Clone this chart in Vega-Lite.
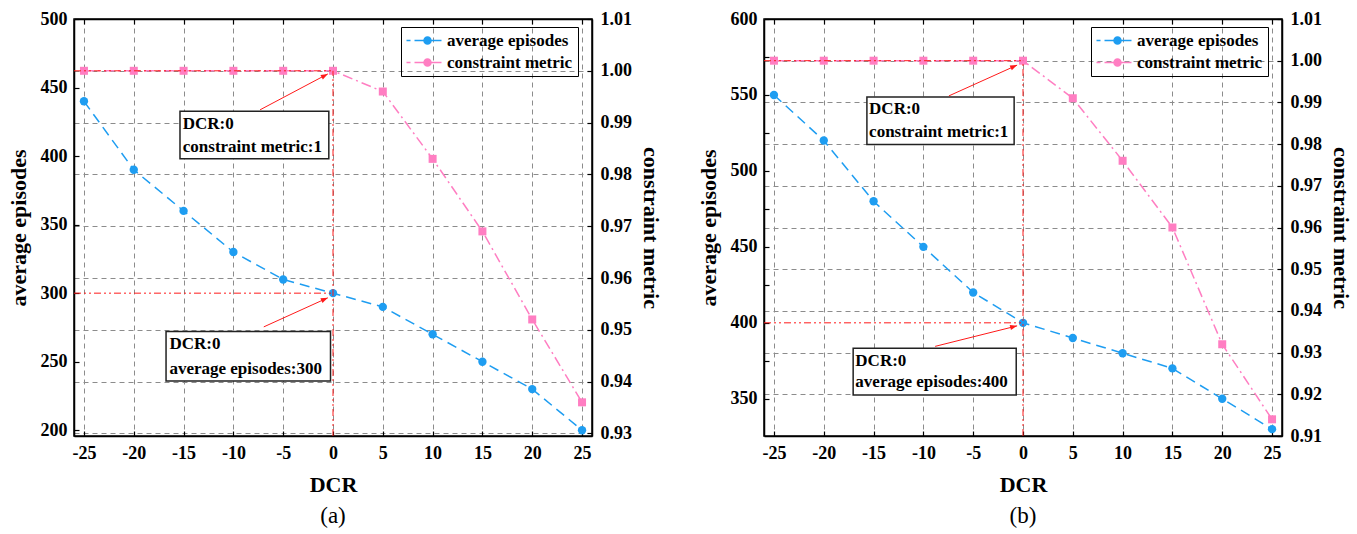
{
  "$schema": "https://vega.github.io/schema/vega-lite/v6.json",
  "background": "white",
  "padding": {"left": 6, "top": 9, "right": 0, "bottom": 0},
  "spacing": 33,
  "datasets": {
    "a": [
      {"DCR": -25, "series": "average episodes", "value": 440},
      {"DCR": -20, "series": "average episodes", "value": 390},
      {"DCR": -15, "series": "average episodes", "value": 360},
      {"DCR": -10, "series": "average episodes", "value": 330},
      {"DCR": -5, "series": "average episodes", "value": 310},
      {"DCR": 0, "series": "average episodes", "value": 300},
      {"DCR": 5, "series": "average episodes", "value": 290},
      {"DCR": 10, "series": "average episodes", "value": 270},
      {"DCR": 15, "series": "average episodes", "value": 250},
      {"DCR": 20, "series": "average episodes", "value": 230},
      {"DCR": 25, "series": "average episodes", "value": 200},
      {"DCR": -25, "series": "constraint metric", "value": 1.0},
      {"DCR": -20, "series": "constraint metric", "value": 1.0},
      {"DCR": -15, "series": "constraint metric", "value": 1.0},
      {"DCR": -10, "series": "constraint metric", "value": 1.0},
      {"DCR": -5, "series": "constraint metric", "value": 1.0},
      {"DCR": 0, "series": "constraint metric", "value": 1.0},
      {"DCR": 5, "series": "constraint metric", "value": 0.996},
      {"DCR": 10, "series": "constraint metric", "value": 0.983},
      {"DCR": 15, "series": "constraint metric", "value": 0.969},
      {"DCR": 20, "series": "constraint metric", "value": 0.952},
      {"DCR": 25, "series": "constraint metric", "value": 0.936}
    ],
    "b": [
      {"DCR": -25, "series": "average episodes", "value": 550},
      {"DCR": -20, "series": "average episodes", "value": 520},
      {"DCR": -15, "series": "average episodes", "value": 480},
      {"DCR": -10, "series": "average episodes", "value": 450},
      {"DCR": -5, "series": "average episodes", "value": 420},
      {"DCR": 0, "series": "average episodes", "value": 400},
      {"DCR": 5, "series": "average episodes", "value": 390},
      {"DCR": 10, "series": "average episodes", "value": 380},
      {"DCR": 15, "series": "average episodes", "value": 370},
      {"DCR": 20, "series": "average episodes", "value": 350},
      {"DCR": 25, "series": "average episodes", "value": 330},
      {"DCR": -25, "series": "constraint metric", "value": 1.0},
      {"DCR": -20, "series": "constraint metric", "value": 1.0},
      {"DCR": -15, "series": "constraint metric", "value": 1.0},
      {"DCR": -10, "series": "constraint metric", "value": 1.0},
      {"DCR": -5, "series": "constraint metric", "value": 1.0},
      {"DCR": 0, "series": "constraint metric", "value": 1.0},
      {"DCR": 5, "series": "constraint metric", "value": 0.991},
      {"DCR": 10, "series": "constraint metric", "value": 0.976},
      {"DCR": 15, "series": "constraint metric", "value": 0.96},
      {"DCR": 20, "series": "constraint metric", "value": 0.932},
      {"DCR": 25, "series": "constraint metric", "value": 0.914}
    ]
  },
  "hconcat": [
    {
      "width": 518,
      "height": 417,
      "title": {"text": "(a)", "orient": "bottom", "offset": 10},
      "resolve": {"scale": {"y": "independent"}},
      "layer": [
        {
          "layer": [
            {
              "data": {"name": "a"},
              "transform": [{"filter": "datum.series === 'average episodes'"}],
              "mark": {"type": "line", "strokeWidth": 1.5, "strokeDash": [10, 6], "point": {"filled": true, "size": 70, "shape": "circle", "opacity": 1}},
              "encoding": {
                "x": {"field": "DCR", "type": "quantitative", "scale": {"domain": [-26, 26], "nice": false, "zero": false},
                  "axis": {"orient": "bottom", "title": "DCR", "values": [-25, -22.5, -20, -17.5, -15, -12.5, -10, -7.5, -5, -2.5, 0, 2.5, 5, 7.5, 10, 12.5, 15, 17.5, 20, 22.5, 25],
                    "labelExpr": "datum.value % 5 === 0 ? '' + datum.value : ''",
                    "tickSize": -5,
                    "labelPadding": 13, "titlePadding": 12,
                    "grid": true, "gridOpacity": {"condition": {"test": "datum.value % 5 !== 0", "value": 0}, "value": 1}}},
                "y": {"field": "value", "type": "quantitative", "scale": {"domain": [195.8, 500], "nice": false, "zero": false},
                  "axis": {"orient": "left", "title": "average episodes", "values": [200, 225, 250, 275, 300, 325, 350, 375, 400, 425, 450, 475, 500],
                    "labelExpr": "datum.value % 50 === 0 ? '' + datum.value : ''",
                    "tickSize": -5,
                    "labelPadding": 12, "titlePadding": 10, "grid": false}},
                "color": {"field": "series", "type": "nominal",
                  "scale": {"domain": ["average episodes", "constraint metric"], "range": ["#1E9DF1", "#FF7EC2"]},
                  "legend": {"orient": "none", "legendX": 327, "legendY": 8}}
              }
            },
            {
              "data": {"values": [{"x": -26, "x2": 0, "y": 300}]},
              "mark": {"type": "rule", "color": "#FF1A1A", "strokeWidth": 1, "strokeDash": [7, 3, 2, 3, 2, 3]},
              "encoding": {
                "x": {"field": "x", "type": "quantitative", "scale": {"domain": [-26, 26], "nice": false, "zero": false}},
                "x2": {"field": "x2"},
                "y": {"field": "y", "type": "quantitative", "scale": {"domain": [195.8, 500], "nice": false, "zero": false}}
              }
            },
            {
              "data": {"values": [{"x": -16.76, "x2": -0.25, "y": 272.0, "y2": 236.0}]},
              "mark": {"type": "rect", "fill": "white", "stroke": "#222222", "strokeWidth": 1.5},
              "encoding": {
                "x": {"field": "x", "type": "quantitative", "scale": {"domain": [-26, 26], "nice": false, "zero": false}},
                "x2": {"field": "x2"},
                "y": {"field": "y", "type": "quantitative", "scale": {"domain": [195.8, 500], "nice": false, "zero": false}},
                "y2": {"field": "y2"}
              }
            },
            {
              "data": {"values": [{"x": -16.42, "y": 262.8, "t": "DCR:0"}, {"x": -16.42, "y": 245.0, "t": "average episodes:300"}]},
              "mark": {"type": "text", "align": "left", "baseline": "middle", "font": "Liberation Serif", "fontWeight": "bold", "fontSize": 17, "color": "#000000"},
              "encoding": {
                "x": {"field": "x", "type": "quantitative", "scale": {"domain": [-26, 26], "nice": false, "zero": false}},
                "y": {"field": "y", "type": "quantitative", "scale": {"domain": [195.8, 500], "nice": false, "zero": false}},
                "text": {"field": "t"}
              }
            },
            {
              "data": {"values": [{"x": -6.95, "y": 275.4, "x2": -0.52, "y2": 296.6}]},
              "mark": {"type": "rule", "color": "#FF1A1A", "strokeWidth": 1},
              "encoding": {
                "x": {"field": "x", "type": "quantitative", "scale": {"domain": [-26, 26], "nice": false, "zero": false}},
                "x2": {"field": "x2"},
                "y": {"field": "y", "type": "quantitative", "scale": {"domain": [195.8, 500], "nice": false, "zero": false}},
                "y2": {"field": "y2"}
              }
            },
            {
              "data": {"values": [{"x": -0.52, "y": 296.6}]},
              "mark": {"type": "point", "shape": "M0,0L-2,-0.75L-2,0.75Z", "filled": true, "size": 49, "angle": -24, "color": "#FF1A1A", "opacity": 1},
              "encoding": {
                "x": {"field": "x", "type": "quantitative", "scale": {"domain": [-26, 26], "nice": false, "zero": false}},
                "y": {"field": "y", "type": "quantitative", "scale": {"domain": [195.8, 500], "nice": false, "zero": false}}
              }
            }
          ]
        },
        {
          "layer": [
            {
              "data": {"name": "a"},
              "transform": [{"filter": "datum.series === 'constraint metric'"}],
              "mark": {"type": "line", "strokeWidth": 1.5, "strokeDash": [10, 4, 2, 4], "point": {"filled": true, "size": 64, "shape": "square", "opacity": 1}},
              "encoding": {
                "x": {"field": "DCR", "type": "quantitative", "scale": {"domain": [-26, 26], "nice": false, "zero": false},
                  "axis": {"orient": "top", "title": null, "labels": false, "grid": false, "values": [-25, -22.5, -20, -17.5, -15, -12.5, -10, -7.5, -5, -2.5, 0, 2.5, 5, 7.5, 10, 12.5, 15, 17.5, 20, 22.5, 25],
                    "tickSize": -5}},
                "y": {"field": "value", "type": "quantitative", "scale": {"domain": [0.9295, 1.01], "nice": false, "zero": false},
                  "axis": {"orient": "right", "title": "constraint metric", "values": [0.93, 0.935, 0.94, 0.945, 0.95, 0.955, 0.96, 0.965, 0.97, 0.975, 0.98, 0.985, 0.99, 0.995, 1, 1.005, 1.01],
                    "labelExpr": "abs(datum.value * 100 - round(datum.value * 100)) < 0.01 ? format(datum.value, '.2f') : ''",
                    "tickSize": -5,
                    "labelPadding": 13, "titlePadding": 7,
                    "grid": true, "gridOpacity": {"condition": {"test": "abs(datum.value * 100 - round(datum.value * 100)) >= 0.01", "value": 0}, "value": 1}}},
                "color": {"field": "series", "type": "nominal",
                  "scale": {"domain": ["average episodes", "constraint metric"], "range": ["#1E9DF1", "#FF7EC2"]},
                  "legend": {"orient": "none", "legendX": 327, "legendY": 8}}
              }
            },
            {
              "data": {"values": [{"x": -26, "x2": 0, "y": 1, "y2": 1}, {"x": 0, "x2": 0, "y": 0.9295, "y2": 1}]},
              "mark": {"type": "rule", "color": "#FF1A1A", "strokeWidth": 1, "strokeDash": [7, 3, 2, 3, 2, 3]},
              "encoding": {
                "x": {"field": "x", "type": "quantitative", "scale": {"domain": [-26, 26], "nice": false, "zero": false}},
                "x2": {"field": "x2"},
                "y": {"field": "y", "type": "quantitative", "scale": {"domain": [0.9295, 1.01], "nice": false, "zero": false}},
                "y2": {"field": "y2"}
              }
            },
            {
              "data": {"values": [{"x": -15.36, "x2": -0.42, "y": 0.9922, "y2": 0.98303}]},
              "mark": {"type": "rect", "fill": "white", "stroke": "#222222", "strokeWidth": 1.5},
              "encoding": {
                "x": {"field": "x", "type": "quantitative", "scale": {"domain": [-26, 26], "nice": false, "zero": false}},
                "x2": {"field": "x2"},
                "y": {"field": "y", "type": "quantitative", "scale": {"domain": [0.9295, 1.01], "nice": false, "zero": false}},
                "y2": {"field": "y2"}
              }
            },
            {
              "data": {"values": [{"x": -15.08, "y": 0.98977, "t": "DCR:0"}, {"x": -15.08, "y": 0.98526, "t": "constraint metric:1"}]},
              "mark": {"type": "text", "align": "left", "baseline": "middle", "font": "Liberation Serif", "fontWeight": "bold", "fontSize": 17, "color": "#000000"},
              "encoding": {
                "x": {"field": "x", "type": "quantitative", "scale": {"domain": [-26, 26], "nice": false, "zero": false}},
                "y": {"field": "y", "type": "quantitative", "scale": {"domain": [0.9295, 1.01], "nice": false, "zero": false}},
                "text": {"field": "t"}
              }
            },
            {
              "data": {"values": [{"x": -7.32, "y": 0.99247, "x2": -0.52, "y2": 0.9994}]},
              "mark": {"type": "rule", "color": "#FF1A1A", "strokeWidth": 1},
              "encoding": {
                "x": {"field": "x", "type": "quantitative", "scale": {"domain": [-26, 26], "nice": false, "zero": false}},
                "x2": {"field": "x2"},
                "y": {"field": "y", "type": "quantitative", "scale": {"domain": [0.9295, 1.01], "nice": false, "zero": false}},
                "y2": {"field": "y2"}
              }
            },
            {
              "data": {"values": [{"x": -0.52, "y": 0.9994}]},
              "mark": {"type": "point", "shape": "M0,0L-2,-0.75L-2,0.75Z", "filled": true, "size": 49, "angle": -28, "color": "#FF1A1A", "opacity": 1},
              "encoding": {
                "x": {"field": "x", "type": "quantitative", "scale": {"domain": [-26, 26], "nice": false, "zero": false}},
                "y": {"field": "y", "type": "quantitative", "scale": {"domain": [0.9295, 1.01], "nice": false, "zero": false}}
              }
            }
          ]
        }
      ]
    },
    {
      "width": 518,
      "height": 417,
      "title": {"text": "(b)", "orient": "bottom", "offset": 10},
      "resolve": {"scale": {"y": "independent"}},
      "layer": [
        {
          "layer": [
            {
              "data": {"name": "b"},
              "transform": [{"filter": "datum.series === 'average episodes'"}],
              "mark": {"type": "line", "strokeWidth": 1.5, "strokeDash": [10, 6], "point": {"filled": true, "size": 70, "shape": "circle", "opacity": 1}},
              "encoding": {
                "x": {"field": "DCR", "type": "quantitative", "scale": {"domain": [-26, 26], "nice": false, "zero": false},
                  "axis": {"orient": "bottom", "title": "DCR", "values": [-25, -22.5, -20, -17.5, -15, -12.5, -10, -7.5, -5, -2.5, 0, 2.5, 5, 7.5, 10, 12.5, 15, 17.5, 20, 22.5, 25],
                    "labelExpr": "datum.value % 5 === 0 ? '' + datum.value : ''",
                    "tickSize": -5,
                    "labelPadding": 13, "titlePadding": 12,
                    "grid": true, "gridOpacity": {"condition": {"test": "datum.value % 5 !== 0", "value": 0}, "value": 1}}},
                "y": {"field": "value", "type": "quantitative", "scale": {"domain": [325.5, 600], "nice": false, "zero": false},
                  "axis": {"orient": "left", "title": "average episodes", "values": [350, 375, 400, 425, 450, 475, 500, 525, 550, 575, 600],
                    "labelExpr": "datum.value % 50 === 0 ? '' + datum.value : ''",
                    "tickSize": -5,
                    "labelPadding": 12, "titlePadding": 10, "grid": false}},
                "color": {"field": "series", "type": "nominal",
                  "scale": {"domain": ["average episodes", "constraint metric"], "range": ["#1E9DF1", "#FF7EC2"]},
                  "legend": {"orient": "none", "legendX": 327, "legendY": 8}}
              }
            },
            {
              "data": {"values": [{"x": -26, "x2": 0, "y": 400}]},
              "mark": {"type": "rule", "color": "#FF1A1A", "strokeWidth": 1, "strokeDash": [7, 3, 2, 3, 2, 3]},
              "encoding": {
                "x": {"field": "x", "type": "quantitative", "scale": {"domain": [-26, 26], "nice": false, "zero": false}},
                "x2": {"field": "x2"},
                "y": {"field": "y", "type": "quantitative", "scale": {"domain": [325.5, 600], "nice": false, "zero": false}}
              }
            },
            {
              "data": {"values": [{"x": -17.05, "x2": -0.68, "y": 383.3, "y2": 352.5}]},
              "mark": {"type": "rect", "fill": "white", "stroke": "#222222", "strokeWidth": 1.5},
              "encoding": {
                "x": {"field": "x", "type": "quantitative", "scale": {"domain": [-26, 26], "nice": false, "zero": false}},
                "x2": {"field": "x2"},
                "y": {"field": "y", "type": "quantitative", "scale": {"domain": [325.5, 600], "nice": false, "zero": false}},
                "y2": {"field": "y2"}
              }
            },
            {
              "data": {"values": [{"x": -16.83, "y": 375.0, "t": "DCR:0"}, {"x": -16.83, "y": 360.8, "t": "average episodes:400"}]},
              "mark": {"type": "text", "align": "left", "baseline": "middle", "font": "Liberation Serif", "fontWeight": "bold", "fontSize": 17, "color": "#000000"},
              "encoding": {
                "x": {"field": "x", "type": "quantitative", "scale": {"domain": [-26, 26], "nice": false, "zero": false}},
                "y": {"field": "y", "type": "quantitative", "scale": {"domain": [325.5, 600], "nice": false, "zero": false}},
                "text": {"field": "t"}
              }
            },
            {
              "data": {"values": [{"x": -8.82, "y": 384.5, "x2": -0.59, "y2": 398.0}]},
              "mark": {"type": "rule", "color": "#FF1A1A", "strokeWidth": 1},
              "encoding": {
                "x": {"field": "x", "type": "quantitative", "scale": {"domain": [-26, 26], "nice": false, "zero": false}},
                "x2": {"field": "x2"},
                "y": {"field": "y", "type": "quantitative", "scale": {"domain": [325.5, 600], "nice": false, "zero": false}},
                "y2": {"field": "y2"}
              }
            },
            {
              "data": {"values": [{"x": -0.59, "y": 398.0}]},
              "mark": {"type": "point", "shape": "M0,0L-2,-0.75L-2,0.75Z", "filled": true, "size": 49, "angle": -14, "color": "#FF1A1A", "opacity": 1},
              "encoding": {
                "x": {"field": "x", "type": "quantitative", "scale": {"domain": [-26, 26], "nice": false, "zero": false}},
                "y": {"field": "y", "type": "quantitative", "scale": {"domain": [325.5, 600], "nice": false, "zero": false}}
              }
            }
          ]
        },
        {
          "layer": [
            {
              "data": {"name": "b"},
              "transform": [{"filter": "datum.series === 'constraint metric'"}],
              "mark": {"type": "line", "strokeWidth": 1.5, "strokeDash": [10, 4, 2, 4], "point": {"filled": true, "size": 64, "shape": "square", "opacity": 1}},
              "encoding": {
                "x": {"field": "DCR", "type": "quantitative", "scale": {"domain": [-26, 26], "nice": false, "zero": false},
                  "axis": {"orient": "top", "title": null, "labels": false, "grid": false, "values": [-25, -22.5, -20, -17.5, -15, -12.5, -10, -7.5, -5, -2.5, 0, 2.5, 5, 7.5, 10, 12.5, 15, 17.5, 20, 22.5, 25],
                    "tickSize": -5}},
                "y": {"field": "value", "type": "quantitative", "scale": {"domain": [0.91, 1.01], "nice": false, "zero": false},
                  "axis": {"orient": "right", "title": "constraint metric", "values": [0.91, 0.915, 0.92, 0.925, 0.93, 0.935, 0.94, 0.945, 0.95, 0.955, 0.96, 0.965, 0.97, 0.975, 0.98, 0.985, 0.99, 0.995, 1, 1.005, 1.01],
                    "labelExpr": "abs(datum.value * 100 - round(datum.value * 100)) < 0.01 ? format(datum.value, '.2f') : ''",
                    "tickSize": -5,
                    "labelPadding": 13, "titlePadding": 7,
                    "grid": true, "gridOpacity": {"condition": {"test": "abs(datum.value * 100 - round(datum.value * 100)) >= 0.01", "value": 0}, "value": 1}}},
                "color": {"field": "series", "type": "nominal",
                  "scale": {"domain": ["average episodes", "constraint metric"], "range": ["#1E9DF1", "#FF7EC2"]},
                  "legend": {"orient": "none", "legendX": 327, "legendY": 8}}
              }
            },
            {
              "data": {"values": [{"x": -26, "x2": 0, "y": 1, "y2": 1}, {"x": 0, "x2": 0, "y": 0.91, "y2": 1}]},
              "mark": {"type": "rule", "color": "#FF1A1A", "strokeWidth": 1, "strokeDash": [7, 3, 2, 3, 2, 3]},
              "encoding": {
                "x": {"field": "x", "type": "quantitative", "scale": {"domain": [-26, 26], "nice": false, "zero": false}},
                "x2": {"field": "x2"},
                "y": {"field": "y", "type": "quantitative", "scale": {"domain": [0.91, 1.01], "nice": false, "zero": false}},
                "y2": {"field": "y2"}
              }
            },
            {
              "data": {"values": [{"x": -15.67, "x2": -0.89, "y": 0.99129, "y2": 0.97993}]},
              "mark": {"type": "rect", "fill": "white", "stroke": "#222222", "strokeWidth": 1.5},
              "encoding": {
                "x": {"field": "x", "type": "quantitative", "scale": {"domain": [-26, 26], "nice": false, "zero": false}},
                "x2": {"field": "x2"},
                "y": {"field": "y", "type": "quantitative", "scale": {"domain": [0.91, 1.01], "nice": false, "zero": false}},
                "y2": {"field": "y2"}
              }
            },
            {
              "data": {"values": [{"x": -15.45, "y": 0.9883, "t": "DCR:0"}, {"x": -15.45, "y": 0.98295, "t": "constraint metric:1"}]},
              "mark": {"type": "text", "align": "left", "baseline": "middle", "font": "Liberation Serif", "fontWeight": "bold", "fontSize": 17, "color": "#000000"},
              "encoding": {
                "x": {"field": "x", "type": "quantitative", "scale": {"domain": [-26, 26], "nice": false, "zero": false}},
                "y": {"field": "y", "type": "quantitative", "scale": {"domain": [0.91, 1.01], "nice": false, "zero": false}},
                "text": {"field": "t"}
              }
            },
            {
              "data": {"values": [{"x": -7.44, "y": 0.99156, "x2": -0.59, "y2": 0.99894}]},
              "mark": {"type": "rule", "color": "#FF1A1A", "strokeWidth": 1},
              "encoding": {
                "x": {"field": "x", "type": "quantitative", "scale": {"domain": [-26, 26], "nice": false, "zero": false}},
                "x2": {"field": "x2"},
                "y": {"field": "y", "type": "quantitative", "scale": {"domain": [0.91, 1.01], "nice": false, "zero": false}},
                "y2": {"field": "y2"}
              }
            },
            {
              "data": {"values": [{"x": -0.59, "y": 0.99894}]},
              "mark": {"type": "point", "shape": "M0,0L-2,-0.75L-2,0.75Z", "filled": true, "size": 49, "angle": -24, "color": "#FF1A1A", "opacity": 1},
              "encoding": {
                "x": {"field": "x", "type": "quantitative", "scale": {"domain": [-26, 26], "nice": false, "zero": false}},
                "y": {"field": "y", "type": "quantitative", "scale": {"domain": [0.91, 1.01], "nice": false, "zero": false}}
              }
            }
          ]
        }
      ]
    }
  ],
  "resolve": {"scale": {"color": "independent"}, "legend": {"color": "independent"}},
  "config": {
    "font": "Liberation Serif",
    "view": {"stroke": "#000000", "strokeWidth": 1.5},
    "title": {"font": "Liberation Serif", "fontSize": 23, "fontWeight": "normal", "color": "#000000"},
    "axis": {
      "domainColor": "#000000", "domainWidth": 1.5, "tickColor": "#000000", "tickWidth": 1.2,
      "labelFont": "Liberation Serif", "labelFontWeight": "bold", "labelFontSize": 18, "labelColor": "#000000",
      "labelFlush": false, "labelOverlap": false,
      "titleFont": "Liberation Serif", "titleFontWeight": "bold", "titleFontSize": 22, "titleColor": "#000000",
      "gridColor": "#8c8c8c", "gridDash": [5, 4], "gridWidth": 1
    },
    "legend": {
      "title": null, "strokeColor": "#000000", "padding": 5, "rowPadding": 4,
      "symbolType": "M-4.2,0H-3.4M-2.6,0H-0.8M0.8,0H2.8M0.7,0A0.7,0.7 0 1,1 -0.7,0A0.7,0.7 0 1,1 0.7,0Z",
      "symbolSize": 100, "symbolStrokeWidth": 1.5, "symbolOffset": 13, "labelOffset": 11,
      "labelFont": "Liberation Serif", "labelFontWeight": "bold", "labelFontSize": 17, "labelColor": "#000000",
      "symbolOpacity": 1
    }
  }
}
